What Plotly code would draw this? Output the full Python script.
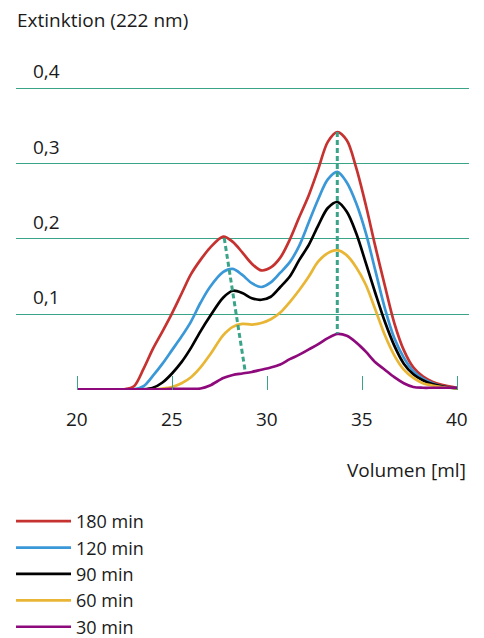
import plotly.graph_objects as go

# --- data -------------------------------------------------------------
volume = [20, 22, 22.5, 23, 23.5, 24, 24.5, 25, 25.5, 26, 26.5, 27, 27.7, 28.2,
          28.7, 29.2, 29.7, 30.2, 30.7, 31.2, 31.7, 32.2, 32.7, 33.2, 33.7, 34.2,
          34.7, 35.2, 35.7, 36.2, 36.7, 37.2, 37.7, 38.2, 38.7, 39.2, 40]

ext_180 = [0.0, 0.0, 0.0, 0.004, 0.027, 0.054, 0.077, 0.101, 0.127, 0.153, 0.172,
           0.188, 0.203, 0.196, 0.182, 0.167, 0.158, 0.162, 0.175, 0.199, 0.229,
           0.258, 0.293, 0.329, 0.342, 0.331, 0.294, 0.245, 0.190, 0.138, 0.088,
           0.052, 0.029, 0.017, 0.010, 0.006, 0.002]
ext_120 = [0.0, 0.0, 0.0, 0.0, 0.004, 0.018, 0.034, 0.052, 0.070, 0.090, 0.115,
           0.136, 0.156, 0.160, 0.152, 0.141, 0.136, 0.142, 0.155, 0.169, 0.191,
           0.222, 0.253, 0.279, 0.289, 0.275, 0.247, 0.208, 0.158, 0.108, 0.068,
           0.042, 0.024, 0.014, 0.008, 0.004, 0.001]
ext_90 = [0.0, 0.0, 0.0, 0.0, 0.0, 0.002, 0.009, 0.021, 0.036, 0.055, 0.077,
          0.097, 0.122, 0.131, 0.128, 0.121, 0.119, 0.123, 0.136, 0.150, 0.172,
          0.192, 0.218, 0.241, 0.249, 0.236, 0.207, 0.168, 0.128, 0.090, 0.058,
          0.034, 0.020, 0.012, 0.007, 0.004, 0.001]
ext_60 = [0.0, 0.0, 0.0, 0.0, 0.0, 0.0, 0.001, 0.003, 0.008, 0.016, 0.029,
          0.046, 0.072, 0.083, 0.087, 0.086, 0.088, 0.093, 0.102, 0.116, 0.132,
          0.150, 0.170, 0.181, 0.185, 0.178, 0.162, 0.139, 0.106, 0.072, 0.045,
          0.026, 0.015, 0.008, 0.005, 0.003, 0.001]
ext_30 = [0.0, 0.0, 0.0, 0.0, 0.0, 0.0, 0.0, 0.0005, 0.0005, 0.0005, 0.001,
          0.005, 0.015, 0.019, 0.021, 0.023, 0.026, 0.029, 0.033, 0.040, 0.046,
          0.053, 0.060, 0.068, 0.0735, 0.071, 0.062, 0.050, 0.036, 0.026, 0.016,
          0.008, 0.003, 0.002, 0.002, 0.002, 0.002]

series_names = ["180 min", "120 min", "90 min", "60 min", "30 min"]
series_values = [ext_180, ext_120, ext_90, ext_60, ext_30]
series_colors = ["#c6322f", "#3a98d8", "#000000", "#e8b634", "#8e0a7c"]

# peak-shift guide lines (dashed)
guide1_x = [27.75, 28.85]
guide1_y = [0.201, 0.024]
guide2_x = [33.7, 33.7]
guide2_y = [0.342, 0.074]

x_ticks = [20, 25, 30, 35, 40]
x_tick_labels = ["20", "25", "30", "35", "40"]
y_ticks = [0.1, 0.2, 0.3, 0.4]
y_tick_labels = ["0,1", "0,2", "0,3", "0,4"]

# --- figure -----------------------------------------------------------
FONT = "Open Sans"
TEXT = "#1a1a1a"
GRID = "#3aa488"
FS = 19

fig = go.Figure()
for name, vals, col in zip(series_names, series_values, series_colors):
    fig.add_trace(go.Scatter(x=volume, y=vals, name=name, mode="lines",
                             line=dict(color=col, width=2.7, shape="spline", smoothing=0.9)))

for gx, gy in [(guide1_x, guide1_y), (guide2_x, guide2_y)]:
    fig.add_trace(go.Scatter(x=gx, y=gy, mode="lines", showlegend=False,
                             hoverinfo="skip",
                             line=dict(color=GRID, width=3, dash="5px,3px")))

annotations = []
for v, t in zip(y_ticks, y_tick_labels):
    annotations.append(dict(x=15 / 453, xref="paper", y=v, yref="y", text=t,
                            showarrow=False, xanchor="left", yanchor="bottom",
                            yshift=2, font=dict(family=FONT, size=FS, color=TEXT)))
for v, t in zip(x_ticks, x_tick_labels):
    annotations.append(dict(x=v, xref="x", y=0, yref="y", text=t,
                            showarrow=False, xanchor="center", yanchor="top",
                            yshift=-15, font=dict(family=FONT, size=FS, color=TEXT)))
annotations.append(dict(x=0, xref="paper", y=1, yref="paper", text="Extinktion (222 nm)",
                        showarrow=False, xanchor="left", yanchor="bottom", yshift=36,
                        borderpad=0,
                        font=dict(family=FONT, size=FS, color=TEXT)))
annotations.append(dict(x=1, xref="paper", y=0, yref="paper", text="Volumen [ml]",
                        showarrow=False, xanchor="right", yanchor="middle", yshift=-80,
                        xshift=-1, font=dict(family=FONT, size=FS, color=TEXT)))

fig.update_layout(
    width=476, height=630,
    margin=dict(l=8, r=15, t=62, b=248, autoexpand=False),
    paper_bgcolor="white", plot_bgcolor="white",
    font=dict(family=FONT, size=FS, color=TEXT),
    showlegend=True,
    legend=dict(x=-0.011, xanchor="left", y=-0.353, yanchor="top",
                font=dict(family=FONT, size=18, color=TEXT),
                itemwidth=55, tracegroupgap=0, bgcolor="rgba(0,0,0,0)"),
    annotations=annotations,
)
fig.update_xaxes(range=[20 - 61 / 19, 40 + 12 / 19], showgrid=False, zeroline=False,
                 showline=False, tickvals=x_ticks, ticks="inside", ticklen=14,
                 tickwidth=1.2, tickcolor=GRID, showticklabels=False, fixedrange=True)
fig.update_yaxes(range=[-0.001, -0.001 + 320 / 752], tickvals=[0] + y_ticks,
                 showgrid=True, gridcolor=GRID, gridwidth=1.2, zeroline=False,
                 showline=False, showticklabels=False, ticks="", fixedrange=True)

fig.write_html("out.html")
